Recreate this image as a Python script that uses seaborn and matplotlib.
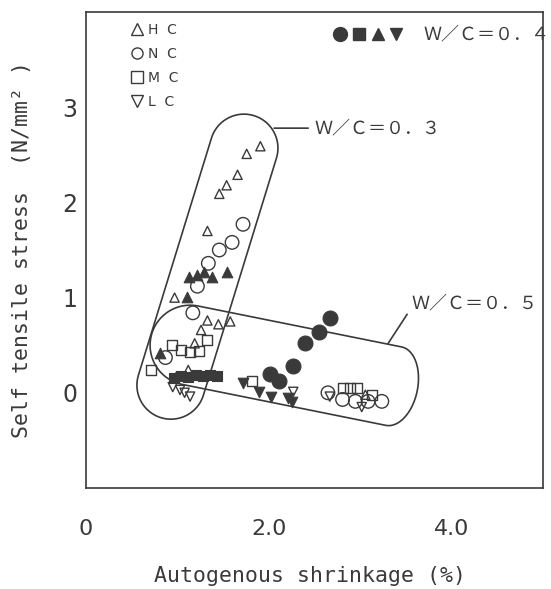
import numpy as np
import pandas as pd
import matplotlib
matplotlib.use("Agg")
import matplotlib.pyplot as plt
import seaborn as sns
from matplotlib.lines import Line2D
from matplotlib.legend_handler import HandlerTuple
from matplotlib.path import Path
from matplotlib.patches import PathPatch

# ---------------- data ----------------
# open markers (W/C = 0.3 and 0.5)
hc_open_x = [1.91, 1.76, 1.66, 1.54, 1.46, 1.33, 0.97, 1.33, 1.45, 1.58, 1.26, 1.19, 0.99, 1.12, 3.06]
hc_open_y = [2.59, 2.51, 2.29, 2.18, 2.09, 1.70, 1.00, 0.76, 0.72, 0.75, 0.66, 0.52, 0.17, 0.24, -0.02]
nc_open_x = [1.72, 1.60, 1.46, 1.34, 1.22, 1.17, 0.87, 2.65, 2.81, 2.95, 3.09, 3.24]
nc_open_y = [1.77, 1.58, 1.50, 1.36, 1.12, 0.84, 0.37, 0.00, -0.07, -0.09, -0.09, -0.09]
mc_open_x = [0.94, 1.04, 1.14, 1.24, 1.33, 0.71, 1.82, 2.81, 2.89, 2.97, 3.13]
mc_open_y = [0.50, 0.45, 0.43, 0.44, 0.55, 0.24, 0.12, 0.05, 0.05, 0.05, -0.02]
lc_open_x = [0.95, 1.03, 1.08, 1.14, 2.27, 2.67, 3.02]
lc_open_y = [0.06, 0.03, 0.00, -0.04, 0.01, -0.04, -0.15]
# filled markers (W/C = 0.4)
hc_fill_x = [1.13, 1.22, 1.29, 1.38, 1.54, 1.11, 0.81]
hc_fill_y = [1.22, 1.24, 1.27, 1.22, 1.27, 1.01, 0.42]
nc_fill_x = [2.67, 2.55, 2.40, 2.27, 2.02, 2.11]
nc_fill_y = [0.79, 0.64, 0.52, 0.28, 0.20, 0.12]
mc_fill_x = [0.96, 1.04, 1.12, 1.20, 1.28, 1.36, 1.44]
mc_fill_y = [0.16, 0.18, 0.17, 0.19, 0.18, 0.19, 0.18]
lc_fill_x = [1.72, 1.89, 2.03, 2.21, 2.26]
lc_fill_y = [0.10, 0.01, -0.04, -0.05, -0.10]

cements = ["HC", "NC", "MC", "LC"]
cement_labels = ["H  C", "N  C", "M  C", "L  C"]
wc_labels = ["Ｗ／Ｃ＝０．３", "Ｗ／Ｃ＝０．４", "Ｗ／Ｃ＝０．５"]

x_ticks = [0, 1, 2, 3, 4]
x_ticklabels = ["0", "", "2.0", "", "4.0"]
y_ticks = [0, 1, 2, 3]
y_ticklabels = ["0", "1", "2", "3"]

# group outlines (centre line end points, data units)
g03_ends = [(0.93, 0.08), (1.73, 2.57)]
g05_ends = [(1.14, 0.50), (3.37, 0.07)]

# ---------------- frame ----------------
frames = []
for cem, xs, ys in [("HC", hc_open_x, hc_open_y), ("NC", nc_open_x, nc_open_y),
                    ("MC", mc_open_x, mc_open_y), ("LC", lc_open_x, lc_open_y)]:
    frames.append(pd.DataFrame({"x": xs, "y": ys, "cement": cem, "filled": False}))
for cem, xs, ys in [("HC", hc_fill_x, hc_fill_y), ("NC", nc_fill_x, nc_fill_y),
                    ("MC", mc_fill_x, mc_fill_y), ("LC", lc_fill_x, lc_fill_y)]:
    frames.append(pd.DataFrame({"x": xs, "y": ys, "cement": cem, "filled": True}))
df = pd.concat(frames, ignore_index=True)

sns.set_theme(style="white")
plt.rcParams["font.family"] = ["DejaVu Sans"]
INK = "#3a3a3a"

fig = plt.figure(figsize=(5.51, 5.89), dpi=100)
ax = fig.add_axes([86 / 551, 1 - 488 / 589, 456.5 / 551, 476 / 589])
ax.set_xlim(0, 5)
ax.set_ylim(-1, 4)

markers = {"HC": "^", "NC": "o", "MC": "s", "LC": "v"}
s_open = {"HC": 44, "NC": 95, "MC": 52, "LC": 44}
s_fill = {"HC": 58, "NC": 115, "MC": 62, "LC": 58}

for (cem, filled), sub in df.groupby(["cement", "filled"]):
    if filled:
        sns.scatterplot(data=sub, x="x", y="y", marker=markers[cem], s=s_fill[cem],
                        color=INK, edgecolor=INK, linewidth=0.8, ax=ax,
                        legend=False, zorder=3)
    else:
        sns.scatterplot(data=sub, x="x", y="y", marker=markers[cem], s=s_open[cem],
                        color=INK, facecolor="none", edgecolor=INK, linewidth=1.0,
                        ax=ax, legend=False, zorder=3)


def stadium(ax, p0, p1, r, k0=1.0, k1=1.0, n=40):
    d0 = ax.transData.transform(p0)
    d1 = ax.transData.transform(p1)
    u = (d1 - d0) / np.hypot(*(d1 - d0))
    nv = np.array([-u[1], u[0]])
    phi = np.linspace(0, np.pi, n)
    pts = [d0 + r * nv, d1 + r * nv]
    pts += [d1 + r * k1 * np.sin(f) * u + r * np.cos(f) * nv for f in phi]
    pts += [d0 - r * nv]
    pts += [d0 - r * k0 * np.sin(f) * u - r * np.cos(f) * nv for f in phi]
    pts = np.array(pts)
    data = ax.transData.inverted().transform(pts)
    patch = PathPatch(Path(data, closed=True), facecolor="none", edgecolor=INK,
                      linewidth=1.2, zorder=2, clip_on=False)
    ax.add_patch(patch)


stadium(ax, g03_ends[0], g03_ends[1], 34)
stadium(ax, g05_ends[0], g05_ends[1], 40, k0=1.0, k1=0.6)

cjk = ["Noto Sans CJK JP", "DejaVu Sans"]
ax.annotate(wc_labels[0], xy=(2.06, 2.78), xytext=(2.50, 2.78), ha="left", va="center",
            fontsize=13, family=cjk, color=INK,
            arrowprops=dict(arrowstyle="-", color=INK, lw=1.2, shrinkA=2, shrinkB=0,
                            relpos=(0, 0.5)))
ax.annotate(wc_labels[2], xy=(3.31, 0.52), xytext=(3.57, 0.94), ha="left", va="center",
            fontsize=13, family=cjk, color=INK,
            arrowprops=dict(arrowstyle="-", color=INK, lw=1.2, shrinkA=2, shrinkB=0,
                            relpos=(0, 0.3)))

# legends
h1 = [Line2D([], [], ls="none", marker=markers[c], markersize=8, mfc="none",
             mec=INK, mew=1.0) for c in cements]
leg1 = ax.legend(h1, cement_labels, loc="upper left", bbox_to_anchor=(0.097, 0.977),
                 frameon=False, fontsize=10, handlelength=0.9, handletextpad=0.35,
                 labelspacing=0.72, borderpad=0, borderaxespad=0, labelcolor=INK)
ax.add_artist(leg1)

h2 = tuple(Line2D([], [], ls="none", marker=markers[c], markersize=ms, mfc=INK,
                  mec=INK) for c, ms in zip(["NC", "MC", "HC", "LC"], [10, 8.5, 9, 9]))
leg2 = ax.legend([h2], [wc_labels[1]], loc="center left",
                 bbox_to_anchor=(0.541, 0.952), frameon=False,
                 handler_map={tuple: HandlerTuple(ndivide=None, pad=0.25)},
                 handlelength=3.9, handletextpad=1.1, borderpad=0, borderaxespad=0,
                 prop={"family": cjk, "size": 13}, labelcolor=INK)

# axes styling
for sp in ax.spines.values():
    sp.set_color(INK)
    sp.set_linewidth(1.2)
ax.set_xticks(x_ticks)
ax.set_xticklabels(x_ticklabels)
ax.set_yticks(y_ticks)
ax.set_yticklabels(y_ticklabels)
ax.tick_params(axis="x", direction="in", length=13, width=1.2, color=INK, pad=22,
               labelsize=16, labelcolor=INK)
ax.tick_params(axis="y", direction="in", length=9.5, width=1.2, color=INK, pad=6,
               labelsize=17, labelcolor=INK)

ax.set_xlabel("Autogenous shrinkage (%)", family="DejaVu Sans Mono", fontsize=15.5, color=INK)
ax.set_ylabel("Self tensile stress  (N/mm² )", family="DejaVu Sans Mono", fontsize=15.5, color=INK)
ax.xaxis.set_label_coords(0.49, -0.185)
ax.xaxis.label.set_va("center")
ax.yaxis.set_label_coords(-0.14, 0.50)
ax.yaxis.label.set_va("center")

fig.savefig("out.png", dpi=100, facecolor="white")
